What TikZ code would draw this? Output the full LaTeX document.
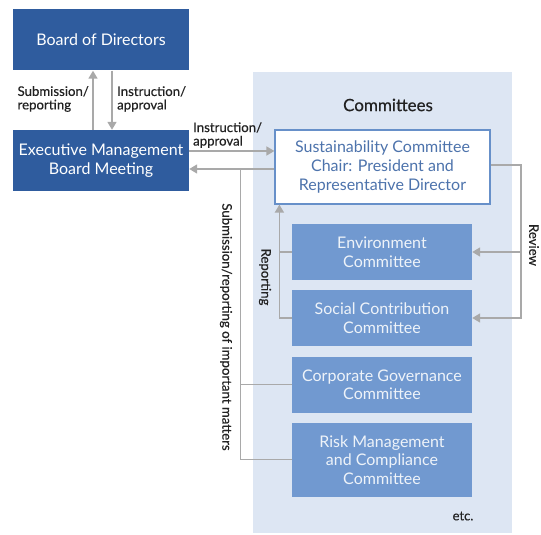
\documentclass[tikz,border=0pt]{standalone}
\usepackage{fontspec}
\setmainfont{Lato}
\newfontfamily\lblfont{Lato}[FakeBold=0.4]
\usetikzlibrary{arrows.meta}
\definecolor{dkblue}{HTML}{2F5C9E}
\definecolor{mdblue}{HTML}{7199D0}
\definecolor{panelblue}{HTML}{DDE6F3}
\definecolor{susblue}{HTML}{4D73AC}
\definecolor{arrgray}{HTML}{A9A9A9}
\definecolor{labelgray}{HTML}{222222}
\tikzset{
  darkbox/.style={fill=dkblue, text=white, minimum width=176pt, minimum height=61pt,
    align=center, font=\fontsize{16}{19}\selectfont, inner sep=0pt},
  combox/.style={fill=mdblue, text=white!88!mdblue, minimum width=180pt, minimum height=56pt,
    align=center, font=\fontsize{16}{18.5}\selectfont, inner sep=0pt},
  susbox/.style={fill=white, draw=mdblue!85!dkblue, line width=1.2pt, text=susblue,
    minimum width=215pt, minimum height=74pt, align=center,
    font=\fontsize{16}{19}\selectfont, inner sep=0pt},
  lbl/.style={text=labelgray, align=left, font=\lblfont\fontsize{13.2}{13.5}\selectfont, inner sep=0pt},
  arr/.style={draw=arrgray, line width=1.6pt, -{Triangle[length=8pt,width=9pt]}},
  link/.style={draw=arrgray, line width=1.6pt},
  thinlink/.style={draw=arrgray, line width=1pt}
}

\begin{document}
\begin{tikzpicture}[x=1pt,y=1pt]
    \useasboundingbox (0,0) rectangle (541,535);
    %committees panel
    \fill[panelblue] (253,2) rectangle (512,463);
    \node[font=\lblfont\fontsize{17}{19}\selectfont, text=labelgray] (title) at (388,430) {Committees};
    %left column
    \node[darkbox] (board) at (101,495) {Board of Directors};
    \node[darkbox] (exec) at (101,374.5) {Executive Management\\Board Meeting};
    %committee boxes
    \node[susbox] (sust) at (382.5,368) {Sustainability Committee\\Chair: President and\\Representative Director};
    \node[combox] (env) at (382,283) {Environment\\Committee};
    \node[combox] (soc) at (382,217) {Social Contribution\\Committee};
    \node[combox] (corp) at (382,150) {Corporate Governance\\Committee};
    \node[combox, minimum height=74pt] (risk) at (382,75) {Risk Management\\and Compliance\\Committee};
    \node[font=\lblfont\fontsize{13}{14}\selectfont, text=labelgray] (etc) at (463,19) {etc.};
    %board <-> executive
    \draw[arr] ([xshift=-8pt]exec.north) -- ([xshift=-8pt]board.south);
    \draw[arr] ([xshift=11pt]board.south) -- ([xshift=11pt]exec.north);
    \node[lbl, anchor=east, align=left] (subrep) at (89,436) {Submission/\\reporting};
    \node[lbl, anchor=west] (instr) at (117,436) {Instruction/\\approval};
    %executive <-> sustainability
    \coordinate (ia) at ([yshift=9.5pt]exec.east);
    \coordinate (sb) at ([yshift=-8.5pt]exec.east);
    \draw[arr] (ia) -- (ia -| sust.west);
    \node[lbl, anchor=south west] (instr2) at (193,387) {Instruction/\\approval};
    \draw[arr] (sb -| sust.west) -- (sb);
    %submission of important matters
    \coordinate (sj) at (240,366);
    \draw[thinlink] (sj) |- (risk.west);
    \draw[thinlink] (sj |- corp.west) -- (corp.west);
    \node[lbl, rotate=-90] (important) at (226,208) {Submission/reporting of important matters};
    %reporting
    \coordinate (rp) at ([xshift=5pt]sust.south west);
    \draw[arr] (soc.west) -| (rp);
    \draw[link] (env.west) -- (env.west -| rp);
    \node[lbl, rotate=-90] (reporting) at (265,258) {Reporting};
    %review
    \coordinate (rv) at (521,370);
    \draw[arr] (sust.east |- rv) -- (rv) |- (soc.east);
    \draw[arr] (rv |- env.east) -- (env.east);
    \node[lbl, rotate=-90] (review) at (534,290) {Review};
\end{tikzpicture}
\end{document}
